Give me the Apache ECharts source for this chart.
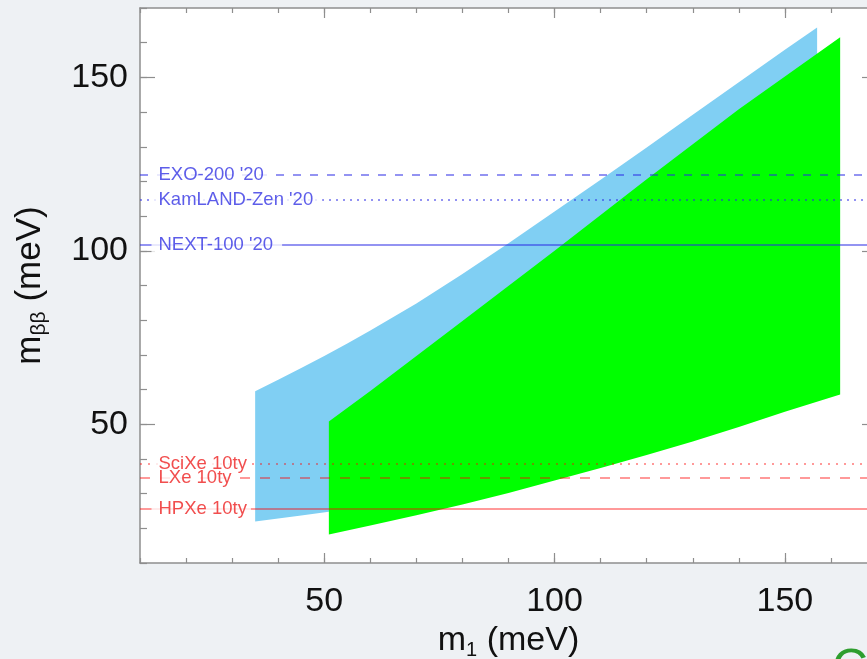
<!DOCTYPE html>
<html><head><meta charset="utf-8">
<script src="https://cdn.jsdelivr.net/npm/echarts@6/dist/echarts.min.js"></script>
<style>html,body{margin:0;padding:0;background:#eef1f4;}#c{width:867px;height:659px;}</style>
</head><body><div id="c"></div>
<script>
// ---------------- data ----------------
const xRange = [10, 170];
const yRange = [10, 170];
const majorTicks = [50, 100, 150];
const tickLabels = [50, 100, 150];

// inverted ordering band (m1, m_bb)
const blueUpper = [[35,59.5],[40,62.8],[45,66.2],[50,69.7],[55,73.3],[60,77],[70,84.8],[80,93.3],[90,102.2],[100,111.3],[110,120.5],[120,129.8],[130,139.2],[140,148.6],[150,158],[157,164.4]];
const blueLower = [[35,22],[45,23.7],[51,24.8],[70,30],[100,40],[130,50],[157,59]];
// normal ordering band
const greenUpper = [[51,50.8],[60,59.6],[80,79.8],[100,100],[120,120.6],[140,140.8],[162,161.6]];
const greenLower = [[51,18.2],[60,20.8],[70,23.8],[80,26.9],[90,30.2],[100,33.8],[110,37.4],[120,41.1],[130,45.0],[140,49.2],[150,53.6],[162,58.6]];

// experimental sensitivities
const limitNames  = ["EXO-200 '20", "KamLAND-Zen '20", "NEXT-100 '20", "SciXe 10ty", "LXe 10ty", "HPXe 10ty"];
const limitValues = [122, 114.6, 101.8, 38.7, 34.5, 25.5];
const limitGroup  = ['blue', 'blue', 'blue', 'red', 'red', 'red'];

// ---------------- styles ----------------
const FONT = "'Liberation Sans', Arial, Helvetica, sans-serif";
const lineKind = {
  "EXO-200 '20": [8, 9], "KamLAND-Zen '20": [2, 5], "NEXT-100 '20": 'solid',
  "SciXe 10ty": [2, 6], "LXe 10ty": [10, 10], "HPXe 10ty": 'solid'
};
const groupStyles = {
  blue: { line: 'rgba(40,40,230,0.5)', text: '#3434e4', pad: [4, 9, 0, 7] },
  red:  { line: 'rgba(255,0,0,0.4)', text: '#ee2222', pad: [4, 4, 0, 7] }
};
const axisGray = '#8e8e8e';

function bandSeries(upper, lower, color, z) {
  const poly = upper.concat(lower.slice().reverse());
  return {
    type: 'custom', xAxisIndex: 0, yAxisIndex: 0, z: z, silent: true,
    data: poly,
    renderItem: function (params, api) {
      if (params.dataIndex !== 0) return null;
      return { type: 'polygon', shape: { points: poly.map(p => api.coord(p)) }, style: { fill: color } };
    }
  };
}

function xAxisDef(gridIndex, main, major) {
  return {
    type: 'value', gridIndex: gridIndex, min: xRange[0], max: xRange[1], interval: 10,
    axisLine: { show: !major, lineStyle: { color: axisGray, width: 1.5 } },
    axisTick: major ? { show: true, inside: true, length: 10, customValues: majorTicks, lineStyle: { color: axisGray, width: 1.2 } }
                    : { show: true, inside: true, length: 5, lineStyle: { color: axisGray, width: 1.2 } },
    axisLabel: main ? { show: true, customValues: tickLabels, margin: 22, fontSize: 34, color: '#111', fontFamily: FONT } : { show: false },
    splitLine: { show: false },
    name: main ? '{a|m}{s|1}{a| (meV)}' : '',
    nameLocation: 'middle', nameGap: 56,
    nameTextStyle: { color: '#111', fontFamily: FONT, fontSize: 34,
      rich: { a: { fontSize: 34, fontFamily: FONT, color: '#111', lineHeight: 40 },
              s: { fontSize: 20, fontFamily: FONT, color: '#111', lineHeight: 20, verticalAlign: 'bottom' } } }
  };
}
function yAxisDef(gridIndex, main, major) {
  return {
    type: 'value', gridIndex: gridIndex, min: yRange[0], max: yRange[1], interval: 10,
    axisLine: { show: !major, lineStyle: { color: axisGray, width: 1.5 } },
    axisTick: major ? { show: true, inside: true, length: 15, customValues: majorTicks, lineStyle: { color: axisGray, width: 1.2 } }
                    : { show: true, inside: true, length: 7, lineStyle: { color: axisGray, width: 1.2 } },
    axisLabel: main ? { show: true, customValues: tickLabels, margin: 12, fontSize: 34, color: '#111', fontFamily: FONT } : { show: false },
    splitLine: { show: false },
    name: main ? '{a|m}{s|ββ}{a| (meV)}' : '',
    nameLocation: 'middle', nameGap: 90, nameRotate: 90,
    nameTextStyle: { color: '#111', fontFamily: FONT, fontSize: 35,
      rich: { a: { fontSize: 35, fontFamily: FONT, color: '#111', lineHeight: 40 },
              s: { fontSize: 21, fontFamily: FONT, color: '#111', lineHeight: 20, verticalAlign: 'bottom' } } }
  };
}

const gridRect = { left: 140, top: 8, width: 737, height: 555, containLabel: false, outerBoundsMode: 'none' };

const option = {
  backgroundColor: '#eef1f4',
  animation: false,
  grid: [
    Object.assign({ show: true, backgroundColor: '#ffffff', borderWidth: 0 }, gridRect),
    Object.assign({ show: false }, gridRect)
  ],
  xAxis: [xAxisDef(0, true, false), xAxisDef(0, false, false), xAxisDef(1, false, true), xAxisDef(1, false, true)],
  yAxis: [yAxisDef(0, true, false), yAxisDef(0, false, false), yAxisDef(1, false, true), yAxisDef(1, false, true)],
  series: [
    bandSeries(blueUpper, blueLower, '#80cff3', 1),
    bandSeries(greenUpper, greenLower, '#00ff00', 2),
    {
      type: 'line', xAxisIndex: 0, yAxisIndex: 0, data: [], z: 3, silent: true,
      markLine: {
        silent: true, symbol: ['none', 'none'], label: { show: false }, animation: false,
        data: limitValues.map((v, i) => ({
          yAxis: v,
          lineStyle: { color: groupStyles[limitGroup[i]].line, width: 2, type: lineKind[limitNames[i]] }
        }))
      }
    },
    {
      type: 'scatter', xAxisIndex: 0, yAxisIndex: 0, z: 5, silent: true, clip: false,
      symbolSize: 1, itemStyle: { color: 'rgba(0,0,0,0)' },
      data: limitValues.map((v, i) => ({
        value: [xRange[0], v], name: limitNames[i],
        label: { color: groupStyles[limitGroup[i]].text, padding: groupStyles[limitGroup[i]].pad }
      })),
      label: {
        show: true, position: 'right', distance: 11, formatter: '{b}',
        fontSize: 18.5, lineHeight: 13, fontFamily: FONT, backgroundColor: '#ffffff'
      }
    }
  ],
  graphic: [{
    type: 'text', left: 832, top: 645, silent: true,
    style: { text: 'C', fill: '#2e9e2e', fontSize: 50, fontFamily: FONT }
  }]
};

const chart = echarts.init(document.getElementById('c'), null, { renderer: 'canvas' });
chart.setOption(option);
</script>
</body></html>
